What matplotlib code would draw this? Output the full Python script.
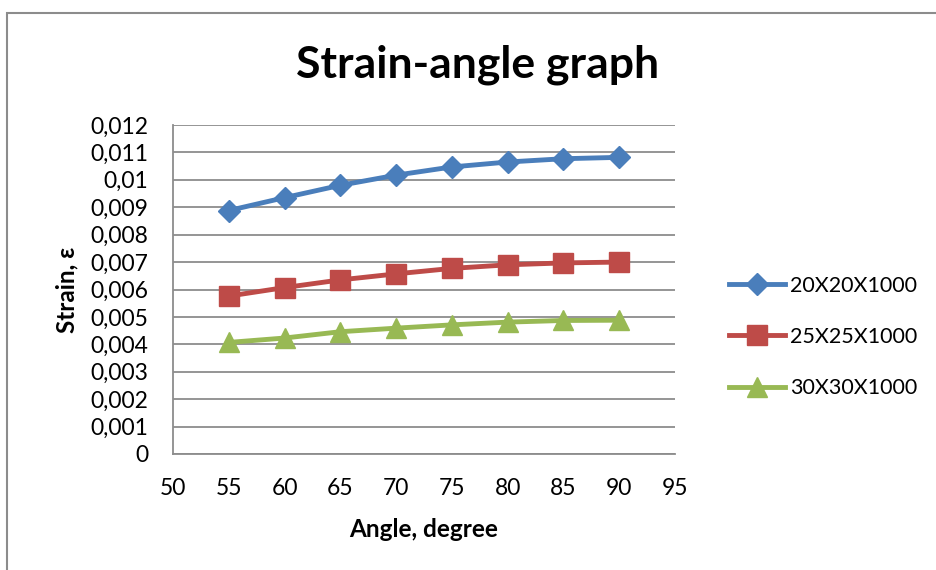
import matplotlib
matplotlib.use("Agg")
import matplotlib.pyplot as plt
from matplotlib.patches import Rectangle
from matplotlib.ticker import FuncFormatter, MultipleLocator

angles = [55, 60, 65, 70, 75, 80, 85, 90]
strain_20 = [0.00888, 0.00935, 0.00980, 0.01017, 0.01047, 0.01065, 0.01077, 0.01082]
strain_25 = [0.00576, 0.00607, 0.00635, 0.00657, 0.00677, 0.00690, 0.00697, 0.00700]
strain_30 = [0.00407, 0.00423, 0.00446, 0.00459, 0.00471, 0.00481, 0.00487, 0.00488]
labels = ["20X20X1000", "25X25X1000", "30X30X1000"]

plt.rcParams["font.family"] = ["Lato", "DejaVu Sans"]

fig = plt.figure(figsize=(9.36, 5.70), dpi=100)
ax = fig.add_axes([173 / 936, 1 - 454 / 570, (675 - 173) / 936, (454 - 125) / 570])

# outer chart frame (right and bottom edges lie outside the image)
fig.patches.append(Rectangle((7 / 936, -0.1), 1.2, 1 - 13 / 570 + 0.1,
                             transform=fig.transFigure, fill=False,
                             edgecolor="#8c8c8c", linewidth=1.5))

series = [
    (strain_20, "#4a7ebb", "D", 11),
    (strain_25, "#be4b48", "s", 14),
    (strain_30, "#98b954", "^", 15),
]
for (vals, color, marker, ms), label in zip(series, labels):
    ax.plot(angles, vals, color=color, linewidth=3.5, marker=marker,
            markersize=ms, label=label)

ax.set_xlim(50, 95)
ax.set_ylim(0, 0.012)
ax.xaxis.set_major_locator(MultipleLocator(5))
ax.yaxis.set_major_locator(MultipleLocator(0.001))
ax.yaxis.set_major_formatter(FuncFormatter(lambda v, p: f"{round(v, 4):g}".replace(".", ",")))

ax.grid(axis="y", color="#8c8c8c", linewidth=1.3)
ax.set_axisbelow(True)
for side in ["top", "right"]:
    ax.spines[side].set_visible(False)
for side in ["left", "bottom"]:
    ax.spines[side].set_color("#8c8c8c")
    ax.spines[side].set_linewidth(1.3)
ax.tick_params(axis="both", length=0, labelsize=16.5)
ax.tick_params(axis="y", pad=18)
ax.tick_params(axis="x", pad=17)

ax.set_xlabel("Angle, degree", fontsize=17.5, fontweight="bold", labelpad=14)
ax.set_ylabel("Strain, ε", fontsize=17.5, fontweight="bold", labelpad=8)
fig.text(478 / 936, 1 - 65 / 570, "Strain-angle graph", fontsize=32,
         fontweight="bold", ha="center", va="center")

ax.legend(loc="center left", bbox_to_anchor=(710 / 936, 1 - 337 / 570),
          bbox_transform=fig.transFigure, frameon=False, fontsize=15.5,
          handlelength=2.6, labelspacing=1.45, handletextpad=0.2)

fig.savefig("out.png", dpi=100)
